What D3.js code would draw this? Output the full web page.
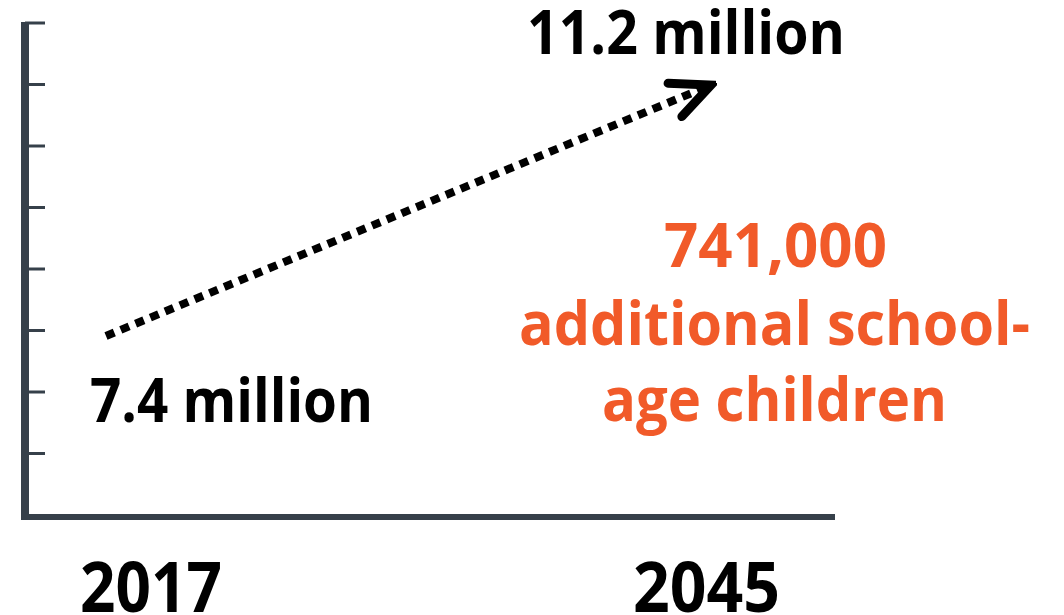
<!DOCTYPE html>
<html lang="en">
	<head>
		<meta charset="utf-8">
		<title>School-age children 2017 to 2045</title>
		<script type="text/javascript" src="https://cdn.jsdelivr.net/npm/d3@7"></script>
		<style type="text/css">
			body { margin: 0; background: #fff; }
			text { font-family: "Open Sans", "Noto Sans", sans-serif; font-weight: 700; }
		</style>
	</head>
	<body>
		<script type="text/javascript">

			//Data
			var years = [2017, 2045];
			var values = [7.4, 11.2];            // millions
			var valueLabels = ["7.4 million", "11.2 million"];
			var noteLines = ["741,000", "additional school-", "age children"];
			var tickSteps = [1, 2, 3, 4, 5, 6, 7, 8];   // unlabeled gridline steps

			//Width and height
			var w = 1064;
			var h = 615;
			var axisBottom = 517;
			var axisTop = 22.5;

			var xScale = d3.scaleLinear()
							.domain([2017, 2045])
							.range([106, 711]);

			// value scale used for the dotted line
			var yScale = d3.scaleLinear()
							.domain([7.4, 11.2])
							.range([336, 85]);

			// unlabeled tick scale of the left axis
			var stepScale = d3.scaleLinear()
							.domain([0, 8])
							.range([514.5, axisTop]);

			var svg = d3.select("body")
						.append("svg")
						.attr("width", w)
						.attr("height", h);

			// arrowhead (open chevron)
			svg.append("defs")
			   .append("marker")
			   .attr("id", "chev")
			   .attr("markerUnits", "userSpaceOnUse")
			   .attr("viewBox", "-50 -25 56 50")
			   .attr("markerWidth", 56)
			   .attr("markerHeight", 50)
			   .attr("refX", 0)
			   .attr("refY", 0)
			   .attr("orient", "auto")
			   .append("path")
			   .attr("d", "M-39,-18L0,0L-39,18")
			   .attr("fill", "none")
			   .attr("stroke", "#000")
			   .attr("stroke-width", 9)
			   .attr("stroke-linecap", "round")
			   .attr("stroke-linejoin", "miter");

			//Left axis with ticks pointing inward
			var yAxis = d3.axisLeft(stepScale)
							.tickValues(tickSteps)
							.tickSize(-20)
							.tickSizeOuter(0)
							.tickFormat("");

			var gy = svg.append("g")
						.attr("transform", "translate(25,0)")
						.call(yAxis);
			gy.select(".domain").remove();
			gy.selectAll(".tick line")
			  .attr("stroke", "#36404a")
			  .attr("stroke-width", 3);

			svg.append("line")
			   .attr("x1", 25).attr("x2", 25)
			   .attr("y1", axisBottom + 1).attr("y2", axisTop - 0.5)
			   .attr("stroke", "#36404a")
			   .attr("stroke-width", 8);

			svg.append("line")
			   .attr("x1", 21).attr("x2", 835)
			   .attr("y1", axisBottom).attr("y2", axisBottom)
			   .attr("stroke", "#36404a")
			   .attr("stroke-width", 6);

			//Dotted arrow
			var line = d3.line()
						 .x(function(d, i) { return xScale(years[i]); })
						 .y(function(d) { return yScale(d); });

			svg.append("path")
			   .datum(values)
			   .attr("d", line)
			   .attr("fill", "none")
			   .attr("stroke", "#000")
			   .attr("stroke-width", 8)
			   .attr("stroke-dasharray", "9,7")
			   .attr("marker-end", "url(#chev)");

			//Value labels
			svg.append("text")
			   .text(valueLabels[0])
			   .attr("x", 90).attr("y", 422)
			   .attr("font-size", 60)
			   .attr("textLength", 283)
			   .attr("lengthAdjust", "spacingAndGlyphs");

			svg.append("text")
			   .text(valueLabels[1])
			   .attr("x", 527).attr("y", 54)
			   .attr("font-size", 60)
			   .attr("textLength", 318)
			   .attr("lengthAdjust", "spacingAndGlyphs");

			//Year labels
			svg.selectAll("text.year")
			   .data(years)
			   .enter()
			   .append("text")
			   .attr("class", "year")
			   .text(function(d) { return d; })
			   .attr("x", function(d, i) { return i === 0 ? 80 : 633; })
			   .attr("y", 612)
			   .attr("font-size", 69)
			   .attr("textLength", function(d, i) { return i === 0 ? 142 : 147; })
			   .attr("lengthAdjust", "spacingAndGlyphs");

			//Orange note
			var noteX = [664, 519, 602];
			var noteY = [267, 345, 421];
			var noteW = [223, 511, 345];
			svg.selectAll("text.note")
			   .data(noteLines)
			   .enter()
			   .append("text")
			   .attr("class", "note")
			   .text(function(d) { return d; })
			   .attr("x", function(d, i) { return noteX[i]; })
			   .attr("y", function(d, i) { return noteY[i]; })
			   .attr("font-size", 61)
			   .attr("fill", "#f15a29")
			   .attr("textLength", function(d, i) { return noteW[i]; })
			   .attr("lengthAdjust", "spacingAndGlyphs");

		</script>
	</body>
</html>
